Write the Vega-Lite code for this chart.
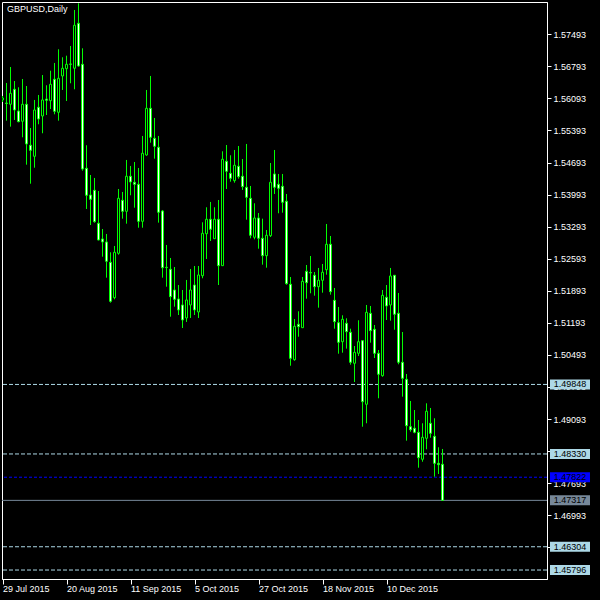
{
 "$schema": "https://vega.github.io/schema/vega-lite/v6.json",
 "autosize": {"type": "none"},
 "padding": {"left": 2, "top": 2, "right": 53, "bottom": 21},
 "width": 545,
 "height": 577,
 "background": "black",
 "config": {"view": {"stroke": "white", "strokeWidth": 1}, "font": "Liberation Sans"},
 "title": {"text": "GBPUSD,Daily", "anchor": "start", "frame": "group", "offset": -12, "dx": 5, "color": "white", "font": "Liberation Sans", "fontSize": 9, "fontWeight": "normal"},
 "datasets": {
  "candles": [
   {"i":0,"o":1.56059,"h":1.56146,"l":1.56015,"c":1.56102},
   {"i":1,"o":1.55993,"h":1.56430,"l":1.55607,"c":1.55982},
   {"i":2,"o":1.55965,"h":1.56779,"l":1.55476,"c":1.56205},
   {"i":3,"o":1.56292,"h":1.56473,"l":1.55622,"c":1.55840},
   {"i":4,"o":1.55818,"h":1.56336,"l":1.55572,"c":1.55585},
   {"i":5,"o":1.55594,"h":1.56517,"l":1.55244,"c":1.55965},
   {"i":6,"o":1.55965,"h":1.56364,"l":1.54646,"c":1.55098},
   {"i":7,"o":1.55070,"h":1.55447,"l":1.54231,"c":1.54960},
   {"i":8,"o":1.54829,"h":1.56059,"l":1.54580,"c":1.55840},
   {"i":9,"o":1.55899,"h":1.56168,"l":1.55528,"c":1.55644},
   {"i":10,"o":1.55709,"h":1.56604,"l":1.55332,"c":1.56059},
   {"i":11,"o":1.56080,"h":1.56380,"l":1.55731,"c":1.56052},
   {"i":12,"o":1.56043,"h":1.56698,"l":1.55862,"c":1.56401},
   {"i":13,"o":1.56511,"h":1.56867,"l":1.55746,"c":1.55812},
   {"i":14,"o":1.55790,"h":1.57166,"l":1.55607,"c":1.56532},
   {"i":15,"o":1.56583,"h":1.56991,"l":1.56277,"c":1.56751},
   {"i":16,"o":1.56742,"h":1.57026,"l":1.56037,"c":1.56838},
   {"i":17,"o":1.56845,"h":1.57238,"l":1.56423,"c":1.56838},
   {"i":18,"o":1.56751,"h":1.58024,"l":1.56292,"c":1.57690},
   {"i":19,"o":1.57733,"h":1.58170,"l":1.56786,"c":1.56801},
   {"i":20,"o":1.56838,"h":1.57187,"l":1.54515,"c":1.54552},
   {"i":21,"o":1.54567,"h":1.55070,"l":1.53679,"c":1.53978},
   {"i":22,"o":1.53984,"h":1.54421,"l":1.53329,"c":1.53891},
   {"i":23,"o":1.54087,"h":1.54356,"l":1.53380,"c":1.53401},
   {"i":24,"o":1.53367,"h":1.54072,"l":1.52995,"c":1.53002},
   {"i":25,"o":1.53024,"h":1.53242,"l":1.52637,"c":1.52958},
   {"i":26,"o":1.52958,"h":1.53133,"l":1.52179,"c":1.52537},
   {"i":27,"o":1.52515,"h":1.52733,"l":1.51633,"c":1.51663},
   {"i":28,"o":1.51742,"h":1.52871,"l":1.51707,"c":1.52733},
   {"i":29,"o":1.52711,"h":1.54115,"l":1.52681,"c":1.53912},
   {"i":30,"o":1.53869,"h":1.54050,"l":1.53467,"c":1.53628},
   {"i":31,"o":1.53628,"h":1.54749,"l":1.53358,"c":1.54393},
   {"i":32,"o":1.54393,"h":1.54618,"l":1.53978,"c":1.54268},
   {"i":33,"o":1.54262,"h":1.54705,"l":1.53707,"c":1.54218},
   {"i":34,"o":1.54218,"h":1.54574,"l":1.53270,"c":1.53410},
   {"i":35,"o":1.53410,"h":1.55273,"l":1.53270,"c":1.54895},
   {"i":36,"o":1.54858,"h":1.56277,"l":1.54842,"c":1.55877},
   {"i":37,"o":1.55877,"h":1.56583,"l":1.55126,"c":1.55244},
   {"i":38,"o":1.55222,"h":1.55666,"l":1.54777,"c":1.55048},
   {"i":39,"o":1.55026,"h":1.55273,"l":1.53380,"c":1.53607},
   {"i":40,"o":1.53635,"h":1.53657,"l":1.52179,"c":1.52397},
   {"i":41,"o":1.52406,"h":1.52893,"l":1.51982,"c":1.52399},
   {"i":42,"o":1.52362,"h":1.52609,"l":1.51327,"c":1.51764},
   {"i":43,"o":1.51910,"h":1.52412,"l":1.51546,"c":1.51707},
   {"i":44,"o":1.51714,"h":1.52019,"l":1.51364,"c":1.51474},
   {"i":45,"o":1.51583,"h":1.51910,"l":1.51080,"c":1.51255},
   {"i":46,"o":1.51299,"h":1.52129,"l":1.51212,"c":1.51692},
   {"i":47,"o":1.51583,"h":1.52369,"l":1.51299,"c":1.51910},
   {"i":48,"o":1.52019,"h":1.52434,"l":1.51364,"c":1.51474},
   {"i":49,"o":1.51430,"h":1.52434,"l":1.51299,"c":1.52238},
   {"i":50,"o":1.52222,"h":1.53388,"l":1.52166,"c":1.53148},
   {"i":51,"o":1.53139,"h":1.53716,"l":1.52587,"c":1.53454},
   {"i":52,"o":1.53454,"h":1.53832,"l":1.52980,"c":1.53236},
   {"i":53,"o":1.53030,"h":1.53716,"l":1.53030,"c":1.53454},
   {"i":54,"o":1.53454,"h":1.53875,"l":1.52019,"c":1.52441},
   {"i":55,"o":1.52441,"h":1.54938,"l":1.52441,"c":1.54764},
   {"i":56,"o":1.54720,"h":1.55076,"l":1.54115,"c":1.54502},
   {"i":57,"o":1.54458,"h":1.54851,"l":1.54275,"c":1.54349},
   {"i":58,"o":1.54297,"h":1.54967,"l":1.54253,"c":1.54633},
   {"i":59,"o":1.54611,"h":1.55054,"l":1.54340,"c":1.54384},
   {"i":60,"o":1.54393,"h":1.54770,"l":1.54094,"c":1.54166},
   {"i":61,"o":1.54153,"h":1.55098,"l":1.53445,"c":1.53934},
   {"i":62,"o":1.53912,"h":1.54181,"l":1.53039,"c":1.53105},
   {"i":63,"o":1.53061,"h":1.53803,"l":1.53017,"c":1.53482},
   {"i":64,"o":1.53482,"h":1.53591,"l":1.52812,"c":1.53039},
   {"i":65,"o":1.53039,"h":1.53467,"l":1.52463,"c":1.52659},
   {"i":66,"o":1.52659,"h":1.53220,"l":1.52397,"c":1.53105},
   {"i":67,"o":1.53096,"h":1.54683,"l":1.53067,"c":1.54262},
   {"i":68,"o":1.54443,"h":1.54967,"l":1.54006,"c":1.54153},
   {"i":69,"o":1.54218,"h":1.54443,"l":1.53585,"c":1.54131},
   {"i":70,"o":1.54174,"h":1.54443,"l":1.53598,"c":1.53825},
   {"i":71,"o":1.53847,"h":1.54006,"l":1.52026,"c":1.52048},
   {"i":72,"o":1.52035,"h":1.52194,"l":1.50257,"c":1.50419},
   {"i":73,"o":1.50388,"h":1.51277,"l":1.50366,"c":1.51118},
   {"i":74,"o":1.51161,"h":1.51445,"l":1.50890,"c":1.51109},
   {"i":75,"o":1.51087,"h":1.52194,"l":1.51087,"c":1.52100},
   {"i":76,"o":1.52318,"h":1.52456,"l":1.51720,"c":1.52069},
   {"i":77,"o":1.52292,"h":1.52652,"l":1.51838,"c":1.52281},
   {"i":78,"o":1.52231,"h":1.52303,"l":1.51786,"c":1.51982},
   {"i":79,"o":1.51982,"h":1.52391,"l":1.51524,"c":1.52122},
   {"i":80,"o":1.52122,"h":1.52478,"l":1.51851,"c":1.52297},
   {"i":81,"o":1.52353,"h":1.53351,"l":1.52244,"c":1.52908},
   {"i":82,"o":1.52908,"h":1.53089,"l":1.51808,"c":1.51873},
   {"i":83,"o":1.51685,"h":1.51954,"l":1.51065,"c":1.51218},
   {"i":84,"o":1.51196,"h":1.51539,"l":1.50519,"c":1.50768},
   {"i":85,"o":1.50781,"h":1.51358,"l":1.50541,"c":1.51270},
   {"i":86,"o":1.51183,"h":1.51292,"l":1.50629,"c":1.51000},
   {"i":87,"o":1.50987,"h":1.51065,"l":1.50279,"c":1.50332},
   {"i":88,"o":1.50310,"h":1.50687,"l":1.49901,"c":1.50550},
   {"i":89,"o":1.50528,"h":1.51249,"l":1.50469,"c":1.50781},
   {"i":90,"o":1.50803,"h":1.50818,"l":1.48925,"c":1.49471},
   {"i":91,"o":1.49415,"h":1.51583,"l":1.49000,"c":1.51423},
   {"i":92,"o":1.51401,"h":1.51561,"l":1.50760,"c":1.51022},
   {"i":93,"o":1.51052,"h":1.51146,"l":1.50425,"c":1.50528},
   {"i":94,"o":1.50528,"h":1.50600,"l":1.49546,"c":1.50070},
   {"i":95,"o":1.50039,"h":1.51910,"l":1.50017,"c":1.51794},
   {"i":96,"o":1.51751,"h":1.52019,"l":1.51255,"c":1.51561},
   {"i":97,"o":1.51583,"h":1.52391,"l":1.51240,"c":1.52216},
   {"i":98,"o":1.52231,"h":1.52238,"l":1.51043,"c":1.51380},
   {"i":99,"o":1.51401,"h":1.51845,"l":1.50288,"c":1.50332},
   {"i":100,"o":1.50332,"h":1.50993,"l":1.49581,"c":1.49982},
   {"i":101,"o":1.49960,"h":1.50076,"l":1.48620,"c":1.48947},
   {"i":102,"o":1.48925,"h":1.49487,"l":1.48816,"c":1.48860},
   {"i":103,"o":1.48891,"h":1.49290,"l":1.48781,"c":1.48803},
   {"i":104,"o":1.48803,"h":1.49072,"l":1.48030,"c":1.48249},
   {"i":105,"o":1.48214,"h":1.49000,"l":1.48161,"c":1.48694},
   {"i":106,"o":1.48672,"h":1.49436,"l":1.48432,"c":1.49262},
   {"i":107,"o":1.49000,"h":1.49334,"l":1.48685,"c":1.48781},
   {"i":108,"o":1.48716,"h":1.49109,"l":1.47834,"c":1.48126},
   {"i":109,"o":1.48126,"h":1.48476,"l":1.47893,"c":1.48096},
   {"i":110,"o":1.48105,"h":1.48439,"l":1.47317,"c":1.47317}
  ],
  "levels": [
   {"p":1.49848,"k":"level"},
   {"p":1.48330,"k":"level"},
   {"p":1.46304,"k":"level"},
   {"p":1.45796,"k":"level"},
   {"p":1.47822,"k":"ask"},
   {"p":1.47317,"k":"bid"}
  ]
 },
 "encoding": {
  "x": {"type": "quantitative", "scale": {"domain": [-0.125, 136.125], "zero": false, "nice": false, "padding": 0},
   "axis": {"values": [0, 16, 32, 48, 64, 80, 96], "labelExpr": "['29 Jul 2015','20 Aug 2015','11 Sep 2015','5 Oct 2015','27 Oct 2015','18 Nov 2015','10 Dec 2015'][round(datum.value/16)]", "title": null, "grid": false, "domainColor": "white", "tickColor": "white", "tickSize": 5, "labelColor": "white", "labelFont": "Liberation Sans", "labelFontSize": 9, "labelAlign": "left", "labelBaseline": "top", "labelPadding": 0, "labelOverlap": false, "labelBound": false, "labelFlush": false}},
  "y": {"type": "quantitative", "scale": {"domain": [1.456, 1.58198], "zero": false, "nice": false, "padding": 0},
   "axis": {"orient": "right", "values": [1.57493, 1.56793, 1.56093, 1.55393, 1.54693, 1.53993, 1.53293, 1.52593, 1.51893, 1.51193, 1.50493, 1.49793, 1.49093, 1.48393, 1.47693, 1.46993, 1.46293], "format": ".5f", "title": null, "grid": false, "domainColor": "white", "tickColor": "white", "tickSize": 4, "labelColor": "white", "labelFont": "Liberation Sans", "labelFontSize": 9, "labelPadding": 2, "labelOverlap": false, "labelBound": false, "labelFlush": false}}
 },
 "layer": [
  {
   "data": {"name": "levels"},
   "transform": [{"filter": "datum.k === 'level'"}],
   "mark": {"type": "rule", "color": "#ADD8E6", "strokeWidth": 1, "strokeDash": [4, 2]},
   "encoding": {"y": {"field": "p"}}
  },
  {
   "data": {"name": "levels"},
   "transform": [{"filter": "datum.k === 'ask'"}],
   "mark": {"type": "rule", "color": "#0000FF", "strokeWidth": 1, "strokeDash": [3, 2]},
   "encoding": {"y": {"field": "p"}}
  },
  {
   "data": {"name": "levels"},
   "transform": [{"filter": "datum.k === 'bid'"}],
   "mark": {"type": "rule", "color": "#778899", "strokeWidth": 1},
   "encoding": {"y": {"field": "p"}}
  },
  {
   "data": {"name": "candles"},
   "mark": {"type": "rule", "color": "#00FF00", "strokeWidth": 1, "clip": true},
   "encoding": {
    "x": {"field": "i"},
    "y": {"field": "l"},
    "y2": {"field": "h"}
   }
  },
  {
   "data": {"name": "candles"},
   "mark": {"type": "bar", "width": 2, "stroke": "#00FF00", "strokeWidth": 1, "clip": true},
   "encoding": {
    "x": {"field": "i"},
    "y": {"field": "o"},
    "y2": {"field": "c"},
    "fill": {"condition": {"test": "datum.c < datum.o", "value": "white"}, "value": "black"}
   }
  },
  {
   "data": {"name": "levels"},
   "mark": {"type": "bar", "orient": "horizontal", "height": 10, "clip": false},
   "encoding": {
    "x": {"datum": 136.875},
    "x2": {"datum": 146.875},
    "y": {"field": "p"},
    "fill": {"condition": [{"test": "datum.k === 'ask'", "value": "#0000FF"}, {"test": "datum.k === 'bid'", "value": "#778899"}], "value": "#ADD8E6"}
   }
  },
  {
   "data": {"name": "levels"},
   "mark": {"type": "text", "align": "center", "baseline": "middle", "font": "Liberation Sans", "fontSize": 9, "color": "black", "clip": false},
   "encoding": {
    "x": {"datum": 141.875},
    "y": {"field": "p"},
    "text": {"field": "p", "type": "quantitative", "format": ".5f"}
   }
  }
 ]
}
